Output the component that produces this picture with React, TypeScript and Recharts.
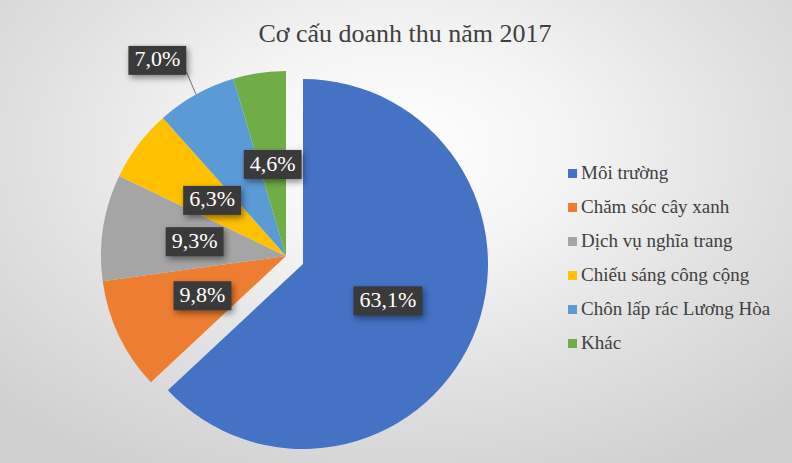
import React from 'react';
import { PieChart, Pie, Cell, Legend } from 'recharts';

const categories = [
  'Môi trường',
  'Chăm sóc cây xanh',
  'Dịch vụ nghĩa trang',
  'Chiếu sáng công cộng',
  'Chôn lấp rác Lương Hòa',
  'Khác',
];
const shares = [63.1, 9.8, 9.3, 6.3, 7.0, 4.6];
const colors = ['#4472C4', '#ED7D31', '#A5A5A5', '#FFC000', '#5B9BD5', '#70AD47'];
const title = 'Cơ cấu doanh thu năm 2017';

const data = categories.map((name, i) => ({ name, value: shares[i] }));

const W = 792;
const H = 463;
const R = 185;
const FONT = '"Liberation Serif", "Times New Roman", serif';
const RAD = Math.PI / 180;

const fmt = (v: number) => `${v.toFixed(1).replace('.', ',')}%`;
const charW: Record<string, number> = { ',': 0.25, '%': 0.833 };
const textWidth = (s: string, size: number) =>
  s.split('').reduce((a, c) => a + (charW[c] ?? 0.5), 0) * size;

const LabelBox = ({ x, y, text }: { x: number; y: number; text: string }) => {
  const fs = 22;
  const w = textWidth(text, fs) + 12;
  const h = 29;
  return (
    <g>
      <rect
        x={x - w / 2}
        y={y - h / 2}
        width={w}
        height={h}
        fill="#3a3a3a"
        style={{ filter: 'drop-shadow(2px 3px 3px rgba(0,0,0,0.45))' }}
      />
      <text
        x={x}
        y={y + 1}
        textAnchor="middle"
        dominantBaseline="middle"
        fill="#ffffff"
        fontSize={fs}
        fontFamily={FONT}
      >
        {text}
      </text>
    </g>
  );
};

const makeLabel = (explodedOnly: boolean) => (props: any) => {
  const { cx, cy, midAngle, outerRadius, index, value } = props;
  if (explodedOnly ? index !== 0 : index === 0) return <g />;
  const text = fmt(value);
  const cos = Math.cos(-midAngle * RAD);
  const sin = Math.sin(-midAngle * RAD);
  if (index === 4) {
    const sx = cx + outerRadius * cos;
    const sy = cy + outerRadius * sin;
    const ex = cx + outerRadius * 1.13 * cos + 2;
    const ey = cy + outerRadius * 1.13 * sin - 2;
    const w = textWidth(text, 22) + 12;
    return (
      <g>
        <line x1={sx} y1={sy} x2={ex} y2={ey} stroke="#6f6f6f" strokeWidth={1} />
        <LabelBox x={ex - w / 2} y={ey - 11} text={text} />
      </g>
    );
  }
  const r = outerRadius * 0.5;
  return <LabelBox x={cx + r * cos} y={cy + r * sin} text={text} />;
};

const LegendContent = () => (
  <div style={{ fontFamily: FONT, fontSize: 19, color: '#404040' }}>
    {categories.map((c, i) => (
      <div key={c} style={{ display: 'flex', alignItems: 'center', height: 34, whiteSpace: 'nowrap' }}>
        <span
          style={{
            display: 'inline-block',
            width: 9,
            height: 9,
            background: colors[i],
            marginRight: 4,
          }}
        />
        <span>{c}</span>
      </div>
    ))}
  </div>
);

export default function App() {
  return (
    <div
      style={{
        position: 'absolute',
        left: 0,
        top: 0,
        width: W,
        height: H,
        background:
          'radial-gradient(ellipse 72% 80% at 50% 32%, #ffffff 0%, #f4f4f4 30%, #e0e0e0 65%, #cfcfcf 100%)',
        overflow: 'hidden',
      }}
    >
      <div
        style={{
          position: 'absolute',
          left: 0,
          top: 19,
          width: 810,
          textAlign: 'center',
          fontFamily: FONT,
          fontSize: 26,
          color: '#404040',
        }}
      >
        {title}
      </div>
      <PieChart
        width={W}
        height={H}
        margin={{ top: 0, right: 0, bottom: 0, left: 0 }}
        style={{ position: 'absolute', left: 0, top: 0 }}
      >
        <Pie
          data={data}
          dataKey="value"
          nameKey="name"
          cx={286}
          cy={256}
          outerRadius={R}
          startAngle={90}
          endAngle={-270}
          stroke="none"
          isAnimationActive={false}
          labelLine={false}
          label={makeLabel(false)}
        >
          {data.map((d, i) => (
            <Cell key={d.name} fill={i === 0 ? 'none' : colors[i]} />
          ))}
        </Pie>
        <Pie
          data={data}
          dataKey="value"
          nameKey="name"
          cx={303}
          cy={264}
          outerRadius={R}
          startAngle={90}
          endAngle={-270}
          stroke="none"
          isAnimationActive={false}
          labelLine={false}
          label={makeLabel(true)}
        >
          {data.map((d, i) => (
            <Cell key={d.name} fill={i === 0 ? colors[i] : 'none'} />
          ))}
        </Pie>
        <Legend
          layout="vertical"
          align="right"
          verticalAlign="top"
          content={LegendContent}
          wrapperStyle={{ left: 568, top: 156, width: 230 }}
        />
      </PieChart>
    </div>
  );
}
